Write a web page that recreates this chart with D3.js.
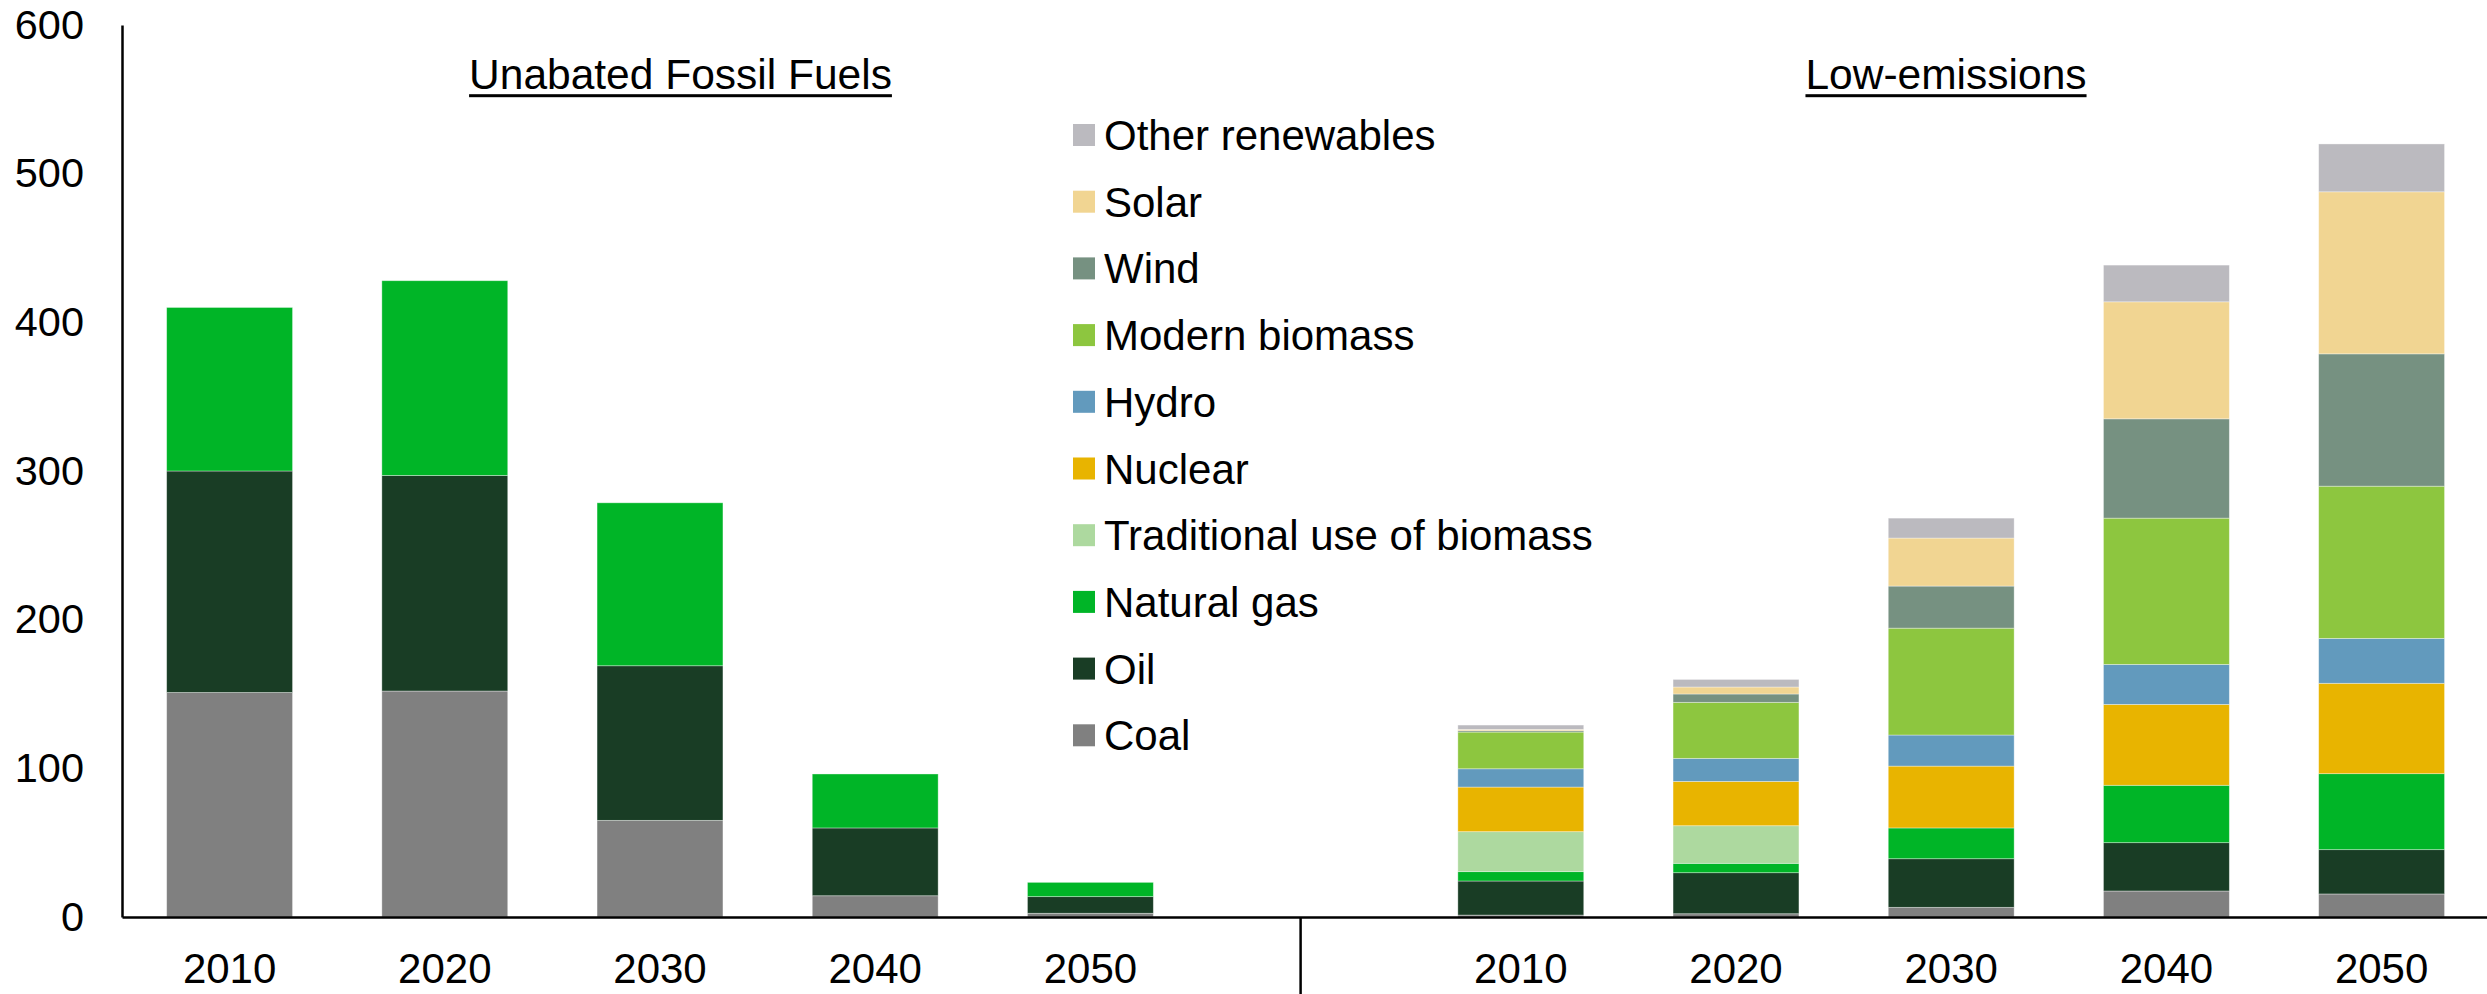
<!DOCTYPE html>
<html>
<head>
<meta charset="utf-8">
<script src="https://cdn.jsdelivr.net/npm/d3@7"></script>
<style>
  body { margin: 0; background: #fff; }
  svg text { font-family: "Liberation Sans", Arial, sans-serif; fill: #000; }
</style>
</head>
<body>
<svg id="chart"></svg>
<script>
// categories: 5 years for fossil fuels, a blank slot, 5 years for low-emissions
var years = ["2010", "2020", "2030", "2040", "2050"]
var categories = ["F2010", "F2020", "F2030", "F2040", "F2050", "gap", "L2010", "L2020", "L2030", "L2040", "L2050"]
var tickLabels = ["2010", "2020", "2030", "2040", "2050", "", "2010", "2020", "2030", "2040", "2050"]
var yTicks = [0, 100, 200, 300, 400, 500, 600]
var panelTitles = ["Unabated Fossil Fuels", "Low-emissions"]

// series, bottom to top (fossil values then low-emissions values)
var seriesNames = ["Coal", "Oil", "Natural gas", "Traditional use of biomass", "Nuclear", "Hydro", "Modern biomass", "Wind", "Solar", "Other renewables"]
var seriesColors = ["#808080", "#193d25", "#00b527", "#add99f", "#e8b400", "#629abd", "#8dc63f", "#769181", "#f1d592", "#bbbabf"]

var fossilCoal = [151, 152, 65, 14.3, 2.5]
var fossilOil = [149, 145, 104, 45.6, 11.2]
var fossilGas = [110, 131, 109.6, 36.3, 9.6]

var lowCoal = [1.3, 2.2, 6.5, 17.5, 15.5]
var lowOil = [22.9, 27.6, 32.7, 32.5, 29.8]
var lowGas = [6.3, 6.3, 20.7, 38.6, 51.1]
var lowTradBiomass = [26.9, 25.3, 0, 0, 0]
var lowNuclear = [30, 29.8, 41.6, 54.4, 60.8]
var lowHydro = [12.3, 15.5, 20.9, 26.9, 30.2]
var lowModernBiomass = [24.7, 37.7, 71.9, 98.4, 102.4]
var lowWind = [0.9, 5.6, 28.3, 66.8, 89]
var lowSolar = [0.9, 4.7, 32.3, 78.7, 109]
var lowOther = [2.9, 5.1, 13.4, 24.7, 32.2]

// build table for d3.stack
var zeros = [0, 0, 0, 0, 0]
var fossilSeries = [fossilCoal, fossilOil, fossilGas, zeros, zeros, zeros, zeros, zeros, zeros, zeros]
var lowSeries = [lowCoal, lowOil, lowGas, lowTradBiomass, lowNuclear, lowHydro, lowModernBiomass, lowWind, lowSolar, lowOther]

var table = []
years.forEach(function (yr, i) {
    var row = { cat: "F" + yr }
    seriesNames.forEach(function (s, k) { row[s] = fossilSeries[k][i] })
    table.push(row)
})
years.forEach(function (yr, i) {
    var row = { cat: "L" + yr }
    seriesNames.forEach(function (s, k) { row[s] = lowSeries[k][i] })
    table.push(row)
})

var width = 2487, height = 994
var margin = { top: 25, right: 0, bottom: 77, left: 122 }

var svg = d3.select("#chart")
    .attr("width", width)
    .attr("height", height)

var x = d3.scaleBand()
    .domain(categories)
    .range([margin.left, margin.left + 11 * 215.2])
    .paddingInner(0.415)
    .paddingOuter(0.2075)

var y = d3.scaleLinear()
    .domain([0, 600])
    .range([height - margin.bottom, margin.top])

var color = d3.scaleOrdinal().domain(seriesNames).range(seriesColors)

var stacked = d3.stack().keys(seriesNames)(table)

// bars
svg.append("g")
    .selectAll("g")
    .data(stacked)
    .enter()
    .append("g")
    .attr("fill", function (d) { return color(d.key) })
    .selectAll("rect")
    .data(function (d) { return d.filter(function (p) { return p[1] - p[0] > 0 }) })
    .enter()
    .append("rect")
    .attr("x", function (d) { return x(d.data.cat) })
    .attr("y", function (d) { return y(d[1]) })
    .attr("width", x.bandwidth())
    .attr("height", function (d) { return y(d[0]) - y(d[1]) })
    .attr("stroke", "#ffffff")
    .attr("stroke-opacity", 0.45)
    .attr("stroke-width", 0.8)

/*y axis*/
var yAxis = svg.append("g")
    .attr("transform", "translate(" + margin.left + ",0)")
    .call(d3.axisLeft(y)
        .tickValues(yTicks)
        .tickSize(0)
        .tickPadding(38)
    )
yAxis.select(".domain").attr("stroke", "#000").attr("stroke-width", 2.5)
yAxis.selectAll("text").style("font-size", "41.5px")

/*x axis*/
var xAxis = svg.append("g")
    .attr("transform", "translate(0," + y(0) + ")")
    .call(d3.axisBottom(x)
        .tickSize(0)
        .tickSizeOuter(0)
        .tickPadding(36)
        .tickFormat(function (d, i) { return tickLabels[i] })
    )
xAxis.select(".domain").attr("stroke", "#000").attr("stroke-width", 2.5)
xAxis.selectAll("text").style("font-size", "42px")

// separator between panels
var sepX = (x("F2050") + x.bandwidth() + x("L2010")) / 2 - 5
svg.append("line")
    .attr("x1", sepX).attr("x2", sepX)
    .attr("y1", y(0)).attr("y2", height)
    .attr("stroke", "#000")
    .attr("stroke-width", 2.5)

// panel titles (underlined)
var titlePos = [680.5, 1946]
panelTitles.forEach(function (t, i) {
    var txt = svg.append("text")
        .attr("x", titlePos[i])
        .attr("y", 89)
        .attr("text-anchor", "middle")
        .style("font-size", "42.5px")
        .text(t)
    var w = txt.node().getComputedTextLength()
    svg.append("rect")
        .attr("x", titlePos[i] - w / 2)
        .attr("y", 94.2)
        .attr("width", w)
        .attr("height", 3)
        .attr("fill", "#000")
})

// legend (top to bottom: reverse of stack order)
var legendNames = seriesNames.slice().reverse()
var legend = svg.append("g")
    .selectAll("g")
    .data(legendNames)
    .enter()
    .append("g")
    .attr("transform", function (d, i) { return "translate(1073," + (135 + i * 66.7) + ")" })

legend.append("rect")
    .attr("x", 0)
    .attr("y", -11)
    .attr("width", 22)
    .attr("height", 22)
    .attr("fill", function (d) { return color(d) })

legend.append("text")
    .attr("x", 31)
    .attr("y", 15)
    .style("font-size", "42px")
    .text(function (d) { return d })
</script>
</body>
</html>
